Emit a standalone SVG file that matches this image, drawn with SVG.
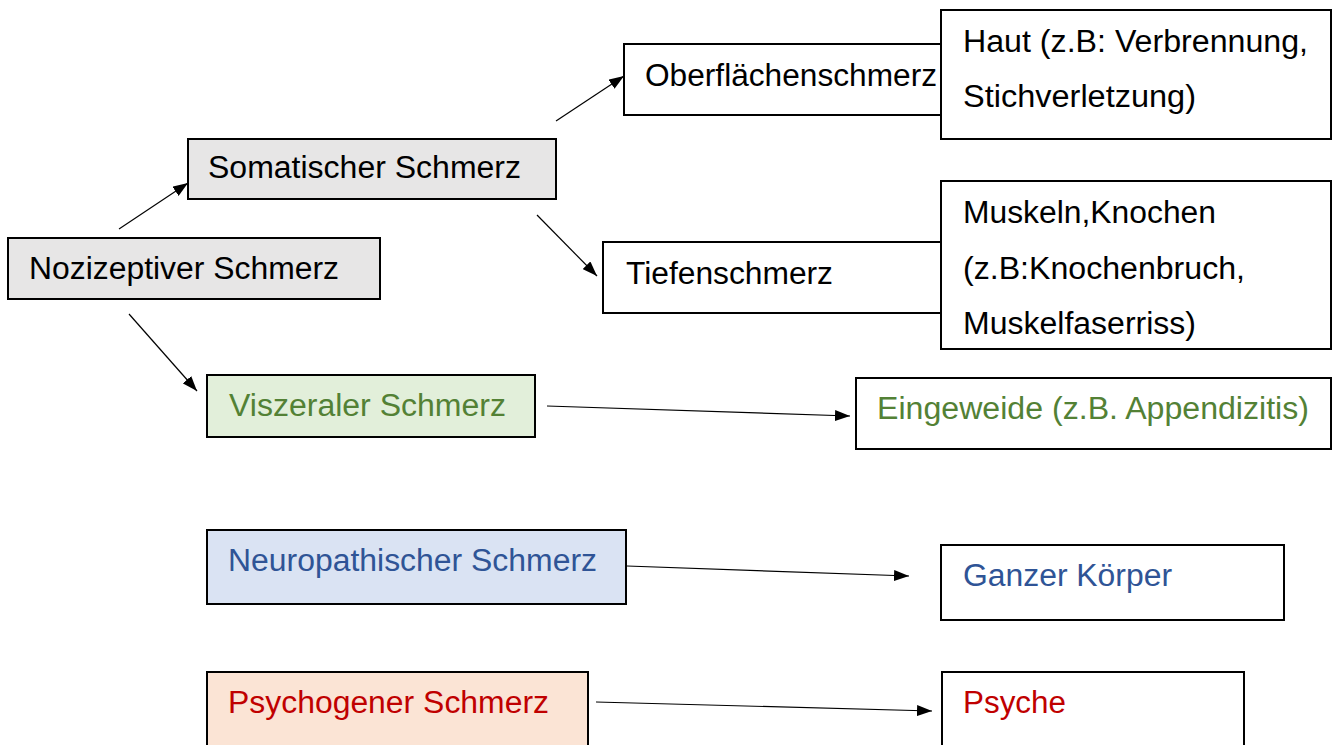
<svg xmlns="http://www.w3.org/2000/svg" width="1334" height="745" viewBox="0 0 1334 745">
<style>
.box{stroke:#000;stroke-width:2}
.t{font-family:"Liberation Sans",Arial,sans-serif;font-size:31px;fill:#000}
.c{stroke:#000;stroke-width:1.2;fill:none}
</style>
<defs>
<marker id="ah" viewBox="0 0 15 11" refX="15" refY="5.5" markerWidth="15" markerHeight="11" markerUnits="userSpaceOnUse" orient="auto">
<path d="M0,0 L15,5.5 L0,11 Z" fill="#000"/>
</marker>
</defs>
<rect width="1334" height="745" fill="#fff"/>
<g id="connectors">
<line class="c" x1="119" y1="229" x2="188" y2="183" marker-end="url(#ah)"/>
<line class="c" x1="129" y1="314" x2="197" y2="391" marker-end="url(#ah)"/>
<line class="c" x1="556" y1="121" x2="624" y2="76" marker-end="url(#ah)"/>
<line class="c" x1="537" y1="215" x2="597" y2="276" marker-end="url(#ah)"/>
<line class="c" x1="547" y1="406" x2="850" y2="416" marker-end="url(#ah)"/>
<line class="c" x1="627" y1="566" x2="909" y2="576" marker-end="url(#ah)"/>
<line class="c" x1="596" y1="702" x2="932" y2="711" marker-end="url(#ah)"/>
</g>
<g id="nozizeptiv">
<rect class="box" x="8" y="238" width="372" height="61" fill="#e7e6e6"/>
<text class="t" x="29" y="279" textLength="310" lengthAdjust="spacingAndGlyphs">Nozizeptiver Schmerz</text>
</g>
<g id="somatisch">
<rect class="box" x="188" y="139" width="368" height="60" fill="#e7e6e6"/>
<text class="t" x="208" y="178" textLength="313" lengthAdjust="spacingAndGlyphs">Somatischer Schmerz</text>
</g>
<g id="oberflaeche">
<rect class="box" x="624" y="44" width="318" height="71" fill="#fff"/>
<text class="t" x="645" y="86" textLength="292" lengthAdjust="spacingAndGlyphs">Oberflächenschmerz</text>
</g>
<g id="haut">
<rect class="box" x="941" y="10" width="390" height="129" fill="#fff"/>
<text class="t" x="963" y="52" textLength="345" lengthAdjust="spacingAndGlyphs">Haut (z.B: Verbrennung,</text>
<text class="t" x="963" y="107" textLength="233" lengthAdjust="spacingAndGlyphs">Stichverletzung)</text>
</g>
<g id="tiefe">
<rect class="box" x="603" y="242" width="340" height="71" fill="#fff"/>
<text class="t" x="626" y="284" textLength="207" lengthAdjust="spacingAndGlyphs">Tiefenschmerz</text>
</g>
<g id="muskeln">
<rect class="box" x="941" y="181" width="390" height="168" fill="#fff"/>
<text class="t" x="963" y="223" textLength="253" lengthAdjust="spacingAndGlyphs">Muskeln,Knochen</text>
<text class="t" x="963" y="279" textLength="282" lengthAdjust="spacingAndGlyphs">(z.B:Knochenbruch,</text>
<text class="t" x="963" y="334" textLength="233" lengthAdjust="spacingAndGlyphs">Muskelfaserriss)</text>
</g>
<g id="viszeral">
<rect class="box" x="207" y="375" width="328" height="62" fill="#e2efda"/>
<text class="t" x="229" y="416" textLength="277" lengthAdjust="spacingAndGlyphs" style="fill:#538135">Viszeraler Schmerz</text>
</g>
<g id="eingeweide">
<rect class="box" x="856" y="378" width="475" height="71" fill="#fff"/>
<text class="t" x="877" y="419" textLength="432" lengthAdjust="spacingAndGlyphs" style="fill:#538135">Eingeweide (z.B. Appendizitis)</text>
</g>
<g id="neuropathisch">
<rect class="box" x="207" y="530" width="419" height="74" fill="#dae3f3"/>
<text class="t" x="228" y="571" textLength="369" lengthAdjust="spacingAndGlyphs" style="fill:#2f5496">Neuropathischer Schmerz</text>
</g>
<g id="koerper">
<rect class="box" x="941" y="545" width="343" height="75" fill="#fff"/>
<text class="t" x="963" y="586" textLength="209" lengthAdjust="spacingAndGlyphs" style="fill:#2f5496">Ganzer Körper</text>
</g>
<g id="psychogen">
<rect class="box" x="207" y="672" width="381" height="90" fill="#fbe4d5"/>
<text class="t" x="228" y="713" textLength="321" lengthAdjust="spacingAndGlyphs" style="fill:#c00000">Psychogener Schmerz</text>
</g>
<g id="psyche">
<rect class="box" x="942" y="672" width="302" height="90" fill="#fff"/>
<text class="t" x="963" y="713" textLength="103" lengthAdjust="spacingAndGlyphs" style="fill:#c00000">Psyche</text>
</g>
</svg>
